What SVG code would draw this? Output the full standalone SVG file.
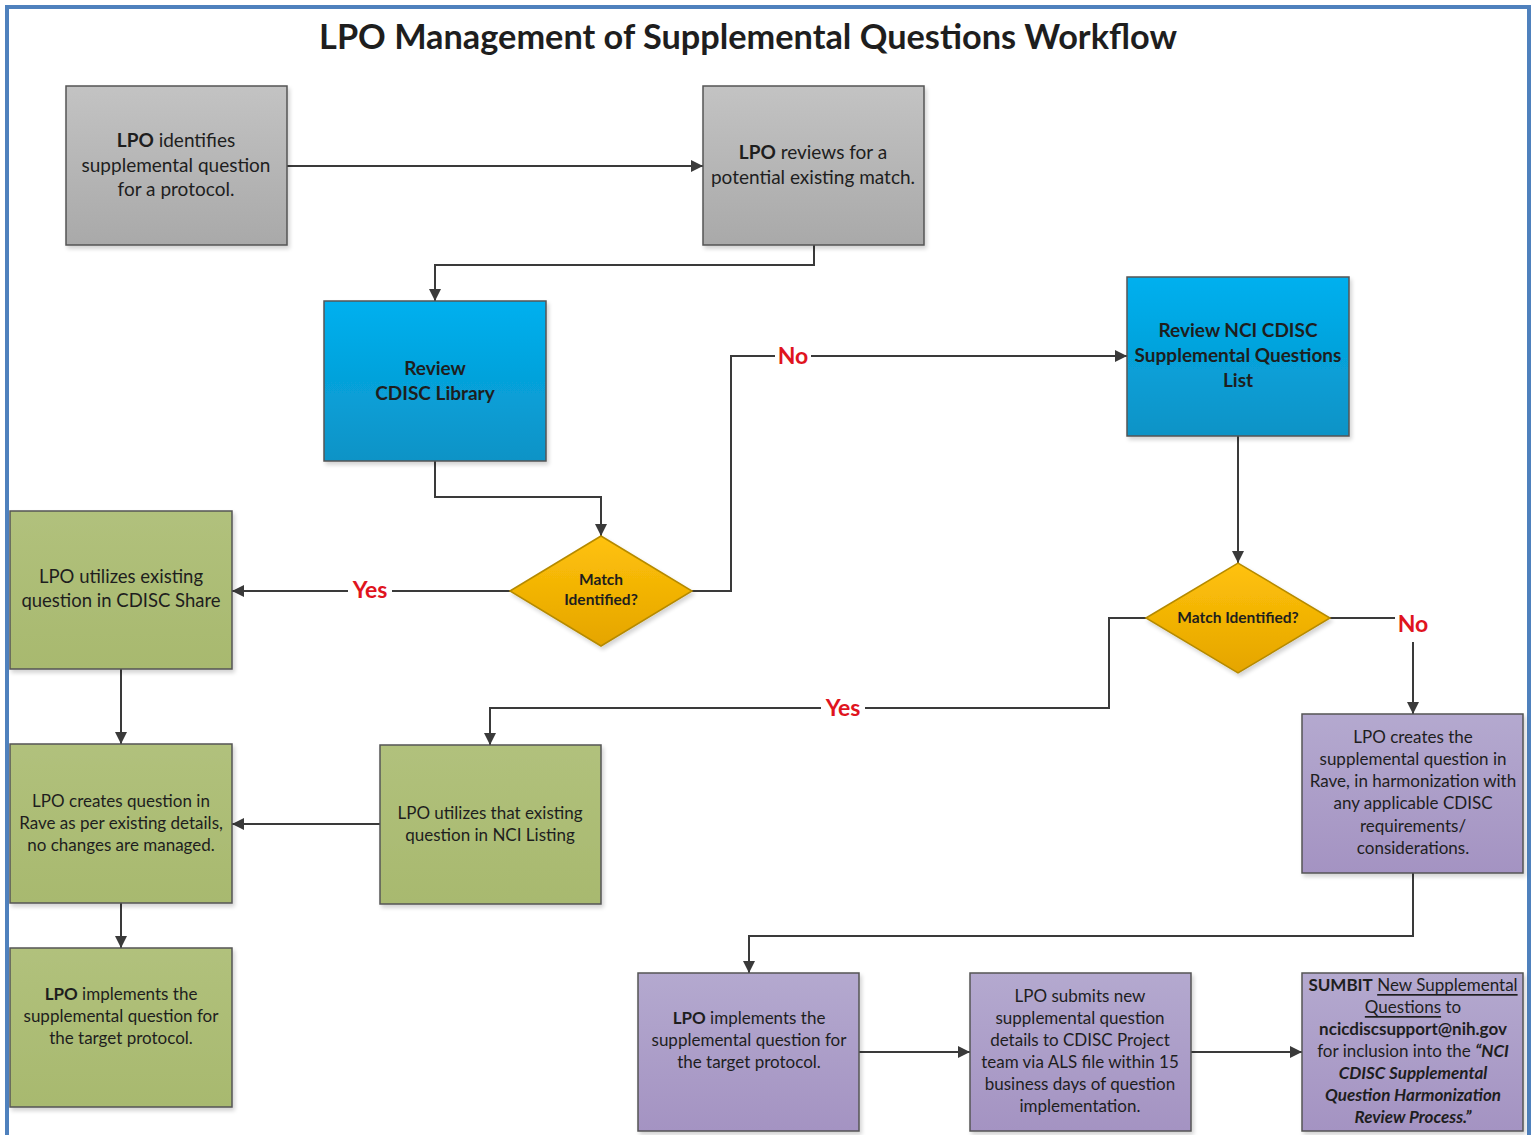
<svg xmlns="http://www.w3.org/2000/svg" width="1536" height="1135" viewBox="0 0 1536 1135">
<defs>
<linearGradient id="gGray" x1="0" y1="0" x2="0" y2="1"><stop offset="0" stop-color="#c3c3c3"/><stop offset="1" stop-color="#a9a9a9"/></linearGradient>
<linearGradient id="gBlue" x1="0" y1="0" x2="0" y2="1"><stop offset="0" stop-color="#00b0ef"/><stop offset="1" stop-color="#0c93c6"/></linearGradient>
<linearGradient id="gGreen" x1="0" y1="0" x2="0" y2="1"><stop offset="0" stop-color="#b1c17c"/><stop offset="1" stop-color="#a8b96f"/></linearGradient>
<linearGradient id="gPurple" x1="0" y1="0" x2="0" y2="1"><stop offset="0" stop-color="#b4a9cf"/><stop offset="1" stop-color="#a493c2"/></linearGradient>
<linearGradient id="gGold" x1="0" y1="0" x2="0" y2="1"><stop offset="0" stop-color="#ffc20a"/><stop offset="1" stop-color="#e5a500"/></linearGradient>
<filter id="sh" x="-10%" y="-10%" width="125%" height="125%"><feGaussianBlur in="SourceAlpha" stdDeviation="2"/><feOffset dx="2" dy="3"/><feComponentTransfer><feFuncA type="linear" slope="0.18"/></feComponentTransfer><feMerge><feMergeNode/><feMergeNode in="SourceGraphic"/></feMerge></filter>
<marker id="ah" viewBox="0 0 10 10" refX="10" refY="5" markerWidth="12" markerHeight="12" markerUnits="userSpaceOnUse" orient="auto"><path d="M0,0 L10,5 L0,10 Z" fill="#3a3a3a"/></marker>
</defs>
<style>
text{font-family:Lato,"Open Sans","Liberation Sans",sans-serif;fill:#1e1e1e;text-anchor:middle;dominant-baseline:central}
.box{stroke:#555;stroke-width:1.5;filter:url(#sh)}
.gray{fill:url(#gGray)}.blue{fill:url(#gBlue)}.green{fill:url(#gGreen)}.purple{fill:url(#gPurple)}.gold{fill:url(#gGold);stroke:#b58a00}
.t19{font-size:19px}.t18{font-size:18.5px}.t16{font-size:17px}.bt{font-size:19px;font-weight:bold}.dt{font-size:15.5px;font-weight:bold}
.b{font-weight:bold}.bi{font-weight:bold;font-style:italic}.u{text-decoration:underline}
.conn path{fill:none;stroke:#3a3a3a;stroke-width:2;marker-end:url(#ah)}
.lbl{font-size:23px;font-weight:bold;fill:#e0141e}
</style>
<rect width="1536" height="1135" fill="#fff"/>
<rect x="7" y="7" width="1522" height="1140" fill="none" stroke="#4f81bd" stroke-width="4"/>
<text x="748" y="35" style="font-size:34.3px;font-weight:bold">LPO Management of Supplemental Questions Workflow</text>

<g class="conn">
<path d="M287,166 H703"/>
<path d="M814,245 V265 H435 V301"/>
<path d="M435,461 V497 H601 V536"/>
<path d="M692,591 H731 V356 H1127"/>
<path d="M510,591 H232"/>
<path d="M1238,436 V563"/>
<path d="M1330,618 H1413 V714"/>
<path d="M1146,618 H1109 V708 H490 V745"/>
<path d="M121,669 V744"/>
<path d="M380,824 H232"/>
<path d="M121,903 V948"/>
<path d="M1413,873 V936 H749 V973"/>
<path d="M859,1052 H970"/>
<path d="M1191,1052 H1302"/>
<rect x="775" y="342" width="36" height="28" fill="#fff"/><text class="lbl" x="793" y="355">No</text>
<rect x="348" y="576" width="44" height="28" fill="#fff"/><text class="lbl" x="370" y="589">Yes</text>
<rect x="1395" y="602" width="37" height="40" fill="#fff"/><text class="lbl" x="1413" y="623">No</text>
<rect x="821" y="694" width="44" height="28" fill="#fff"/><text class="lbl" x="843" y="707">Yes</text>
</g>

<g id="n1"><rect class="box gray" x="66" y="86" width="221" height="159"/>
<text class="t19" x="176" y="139"><tspan class="b">LPO</tspan> identifies</text>
<text class="t19" x="176" y="164">supplemental question</text>
<text class="t19" x="176" y="188">for a protocol.</text></g>

<g id="n2"><rect class="box gray" x="703" y="86" width="221" height="159"/>
<text class="t19" x="813" y="151"><tspan class="b">LPO</tspan> reviews for a</text>
<text class="t19" x="813" y="176">potential existing match.</text></g>

<g id="n3"><rect class="box blue" x="324" y="301" width="222" height="160"/>
<text class="bt" x="435" y="367">Review</text>
<text class="bt" x="435" y="392">CDISC Library</text></g>

<g id="n4"><rect class="box blue" x="1127" y="277" width="222" height="159"/>
<text class="bt" x="1238" y="329">Review NCI CDISC</text>
<text class="bt" x="1238" y="354">Supplemental Questions</text>
<text class="bt" x="1238" y="379">List</text></g>

<g id="n5"><path class="box gold" d="M510,591 L601,536 L692,591 L601,646 Z"/>
<text class="dt" x="601" y="579">Match</text>
<text class="dt" x="601" y="599">Identified?</text></g>

<g id="n6"><path class="box gold" d="M1146,618 L1238,563 L1330,618 L1238,673 Z"/>
<text class="dt" x="1238" y="617">Match Identified?</text></g>

<g id="n7"><rect class="box green" x="10" y="511" width="222" height="158"/>
<text class="t18" x="121" y="576">LPO utilizes existing</text>
<text class="t18" x="121" y="600">question in CDISC Share</text></g>

<g id="n8"><rect class="box green" x="10" y="744" width="222" height="159"/>
<text class="t16" x="121" y="800">LPO creates question in</text>
<text class="t16" x="121" y="822">Rave as per existing details,</text>
<text class="t16" x="121" y="844">no changes are managed.</text></g>

<g id="n9"><rect class="box green" x="10" y="948" width="222" height="159"/>
<text class="t16" x="121" y="993"><tspan class="b">LPO</tspan> implements the</text>
<text class="t16" x="121" y="1015">supplemental question for</text>
<text class="t16" x="121" y="1037">the target protocol.</text></g>

<g id="n10"><rect class="box green" x="380" y="745" width="221" height="159"/>
<text class="t16" x="490" y="812">LPO utilizes that existing</text>
<text class="t16" x="490" y="834">question in NCI Listing</text></g>

<g id="n11"><rect class="box purple" x="1302" y="714" width="221" height="159"/>
<text class="t16" x="1413" y="736">LPO creates the</text>
<text class="t16" x="1413" y="758">supplemental question in</text>
<text class="t16" x="1413" y="780">Rave, in harmonization with</text>
<text class="t16" x="1413" y="802">any applicable CDISC</text>
<text class="t16" x="1413" y="825">requirements/</text>
<text class="t16" x="1413" y="847">considerations.</text></g>

<g id="n12"><rect class="box purple" x="638" y="973" width="221" height="158"/>
<text class="t16" x="749" y="1017"><tspan class="b">LPO</tspan> implements the</text>
<text class="t16" x="749" y="1039">supplemental question for</text>
<text class="t16" x="749" y="1061">the target protocol.</text></g>

<g id="n13"><rect class="box purple" x="970" y="973" width="221" height="158"/>
<text class="t16" x="1080" y="995">LPO submits new</text>
<text class="t16" x="1080" y="1017">supplemental question</text>
<text class="t16" x="1080" y="1039">details to CDISC Project</text>
<text class="t16" x="1080" y="1061">team via ALS file within 15</text>
<text class="t16" x="1080" y="1083">business days of question</text>
<text class="t16" x="1080" y="1105">implementation.</text></g>

<g id="n14"><rect class="box purple" x="1302" y="973" width="221" height="158"/>
<text class="t16" x="1413" y="984"><tspan class="b">SUMBIT</tspan> <tspan class="u">New Supplemental</tspan></text>
<text class="t16" x="1413" y="1006"><tspan class="u">Questions</tspan> to</text>
<text class="t16 b" x="1413" y="1028">ncicdiscsupport@nih.gov</text>
<text class="t16" x="1413" y="1050">for inclusion into the <tspan class="bi">“NCI</tspan></text>
<text class="t16 bi" x="1413" y="1072">CDISC Supplemental</text>
<text class="t16 bi" x="1413" y="1094">Question Harmonization</text>
<text class="t16 bi" x="1413" y="1116">Review Process.”</text></g>
</svg>
